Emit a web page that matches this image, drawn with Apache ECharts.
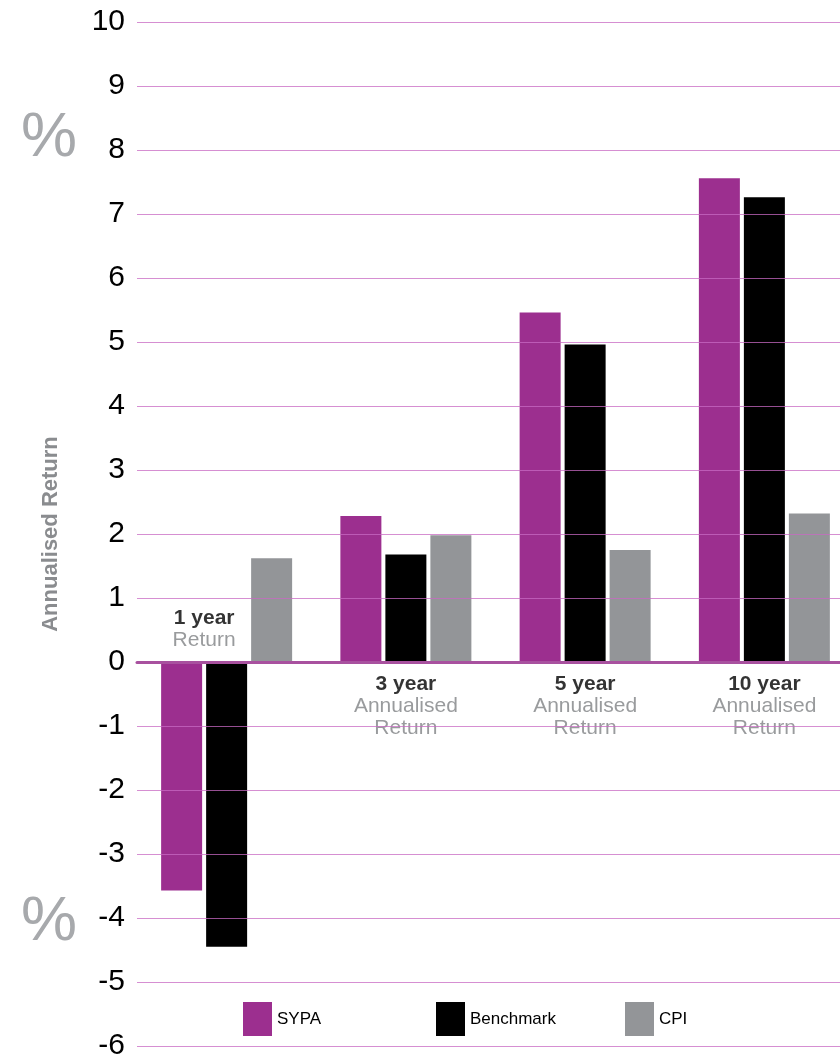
<!DOCTYPE html>
<html>
<head>
<meta charset="utf-8">
<script src="https://cdn.jsdelivr.net/npm/echarts@6/dist/echarts.min.js"></script>
<style>
  html, body { margin: 0; padding: 0; background: #fff; }
  #myChart { width: 840px; height: 1061px; }
</style>
</head>
<body>
<div id="myChart"></div>
<script>
// 数据
var categories = ['1 year', '3 year', '5 year', '10 year']
var subTitles = ['Return', 'Annualised\nReturn', 'Annualised\nReturn', 'Annualised\nReturn']
var seriesNames = ['SYPA', 'Benchmark', 'CPI']
var sypa = [-3.57, 2.28, 5.46, 7.56]
var benchmark = [-4.45, 1.68, 4.96, 7.26]
var cpi = [1.62, 1.98, 1.75, 2.32]
var yTicks = [-6, 10, 1] // min, max, interval

var font = 'Liberation Sans'
var barWidth = 41
var barGapPx = 4

var myChart = echarts.init(document.getElementById('myChart'))

// 分类标签: 负值组放在零线上方
var labelData = categories.map(function (c, i) {
  var neg = sypa[i] < 0
  return {
    value: [i, 0],
    label: {
      position: neg ? 'top' : 'bottom',
      offset: neg ? [-(barWidth + barGapPx) / 2, 0] : [0, 0],
    },
  }
})

// 网格线 (画在柱子上面)
var gridLines = []
for (var v = yTicks[0]; v <= yTicks[1]; v += yTicks[2]) {
  if (v !== 0) gridLines.push({ yAxis: v })
}

// 图例 (固定位置)
var legendLeft = [243, 436, 625]
var legends = seriesNames.map(function (n, i) {
  return {
    left: legendLeft[i],
    top: 1002,
    padding: 0,
    itemWidth: 29,
    itemHeight: 34,
    icon: 'rect',
    data: [n],
    textStyle: { color: '#000', fontSize: 17, fontFamily: font, padding: [0, 0, 6, 0] },
  }
})

var option = {
  animation: false,
  textStyle: { fontFamily: font },
  grid: { left: 137, width: 717, top: 22, height: 1024, outerBoundsMode: 'none', containLabel: false },
  legend: legends,
  graphic: [
    { type: 'text', left: 21, top: 107, style: { text: '%', fill: '#a7a9ac', fontSize: 63, fontFamily: font } },
    { type: 'text', left: 21, top: 891, style: { text: '%', fill: '#a7a9ac', fontSize: 63, fontFamily: font } },
  ],
  xAxis: {
    type: 'category',
    data: categories,
    z: 6,
    axisLine: { onZero: true, lineStyle: { color: '#a8519f', width: 3 } },
    axisTick: { show: false },
    axisLabel: { show: false },
    splitLine: { show: false },
  },
  yAxis: {
    type: 'value',
    min: yTicks[0],
    max: yTicks[1],
    interval: yTicks[2],
    name: 'Annualised Return',
    nameLocation: 'middle',
    nameRotate: 90,
    nameGap: 75,
    nameTextStyle: { color: '#8a8c8f', fontSize: 22, fontWeight: 'bold', fontFamily: font },
    axisLine: { show: false },
    axisTick: { show: false },
    axisLabel: { color: '#000', fontSize: 30, margin: 12, fontFamily: font },
    splitLine: { show: false },
  },
  series: [
    {
      name: 'SYPA',
      type: 'bar',
      data: sypa,
      barWidth: barWidth,
      barGap: (barGapPx / barWidth * 100) + '%',
      itemStyle: { color: '#9c2f8f' },
    },
    {
      name: 'Benchmark',
      type: 'bar',
      data: benchmark,
      barWidth: barWidth,
      itemStyle: { color: '#000000' },
    },
    {
      name: 'CPI',
      type: 'bar',
      data: cpi,
      barWidth: barWidth,
      itemStyle: { color: '#939598' },
    },
    {
      // 分类文字
      type: 'scatter',
      symbolSize: 0,
      silent: true,
      z: 3,
      data: labelData,
      label: {
        show: true,
        distance: 11,
        align: 'center',
        formatter: function (p) {
          var i = p.dataIndex
          return '{b|' + categories[i] + '}\n' +
            subTitles[i].split('\n').map(function (s) { return '{g|' + s + '}' }).join('\n')
        },
        rich: {
          b: { fontSize: 21, fontWeight: 'bold', color: '#000', lineHeight: 22, fontFamily: font },
          g: { fontSize: 21, color: '#808285', lineHeight: 22, fontFamily: font },
        },
      },
    },
    {
      type: 'line',
      data: [],
      z: 5,
      silent: true,
      markLine: {
        silent: true,
        symbol: 'none',
        animation: false,
        label: { show: false },
        lineStyle: { color: 'rgba(200,105,195,0.75)', width: 1, type: 'solid' },
        emphasis: { disabled: true },
        data: gridLines,
      },
    },
  ],
}

myChart.setOption(option, true)
window.addEventListener('resize', function () {
  myChart.resize()
})
</script>
</body>
</html>
